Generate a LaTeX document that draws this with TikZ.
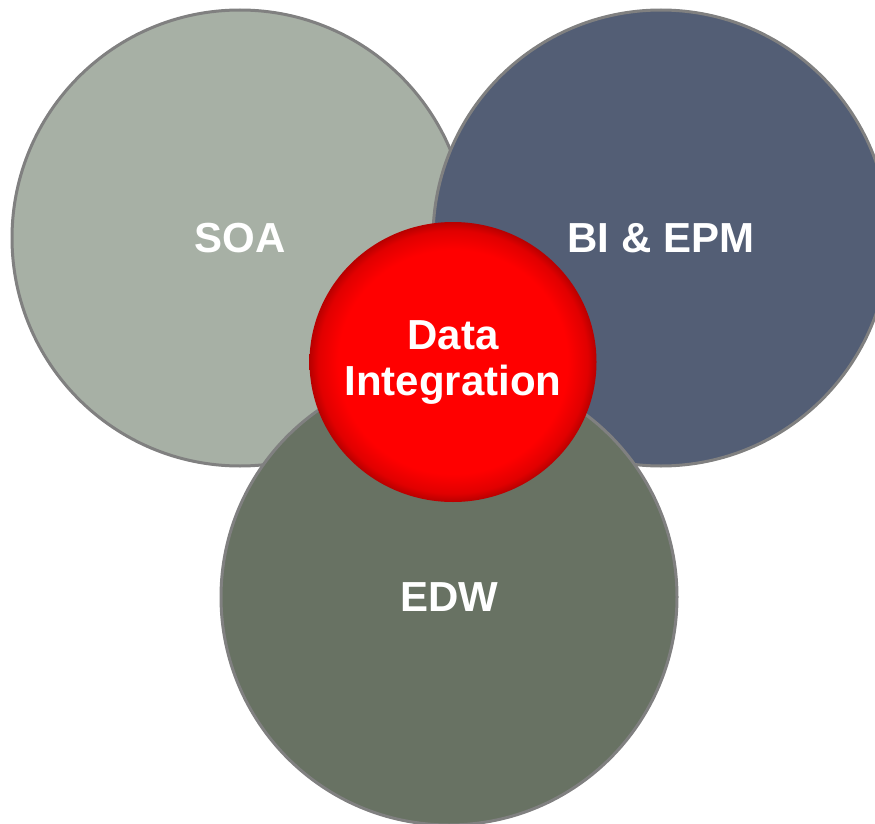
\documentclass[tikz,border=0pt]{standalone}
\usepackage{fontspec}
\setmainfont{Liberation Sans}
\usepackage{xcolor}
\usepackage{tikz}
\usetikzlibrary{shapes,
                positioning}
\definecolor{soagray}{HTML}{A7B0A5}
\definecolor{bislate}{HTML}{535E75}
\definecolor{edwgreen}{HTML}{687263}
\definecolor{rimgray}{HTML}{808080}
\pgfdeclareradialshading{redbutton}{\pgfpoint{0bp}{0bp}}{%
  color(0bp)=(red); color(20bp)=(red); color(23.5bp)=(red!88!black);
  color(25bp)=(red!72!black); color(50bp)=(red!72!black)}
\tikzstyle{bigset} = [circle, draw=rimgray, line width=3pt, minimum size=456pt, inner sep=0pt,
                      text=white, font=\fontsize{42}{46}\selectfont\bfseries]
\tikzstyle{core} = [ellipse, shade, shading=redbutton, minimum width=287pt, minimum height=280pt,
                    inner xsep=-40pt, inner ysep=0pt, align=center, text=white,
                    font=\fontsize{42}{46}\selectfont\bfseries]

\begin{document}
\begin{tikzpicture}[x=1pt,y=-1pt]
    \useasboundingbox (0,0) rectangle (875,824);
    \clip (0,0) rectangle (875,824);

    \node[bigset, fill=soagray] (soa) at (240,238) {SOA};
    \node[bigset, fill=bislate] (bi) at (661,238) {BI \& EPM};
    \node[bigset, fill=edwgreen] (edw) at (449,597) {EDW};

    \node[core] (di) at (453,362) {Data\\Integration};
\end{tikzpicture}
\end{document}
